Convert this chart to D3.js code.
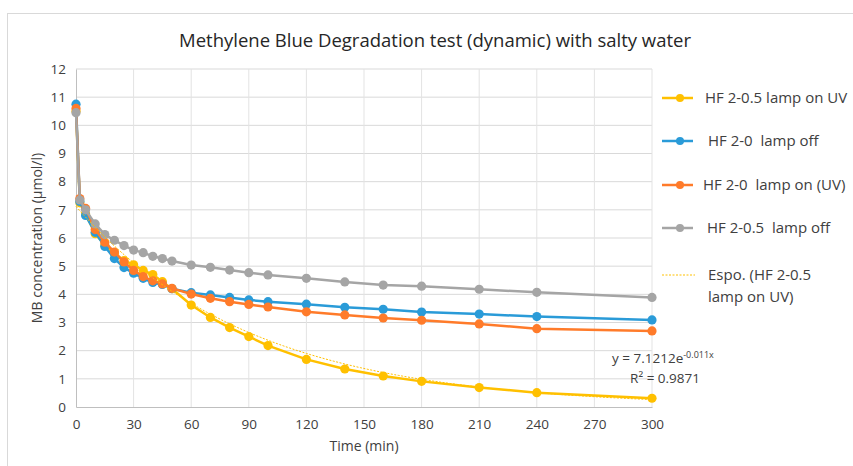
<!DOCTYPE html>
<html><head><meta charset="utf-8">
<script src="https://cdn.jsdelivr.net/npm/d3@7"></script>
<style>body{margin:0;background:#fff;} text{font-family:"Open Sans","Noto Sans",sans-serif;}</style>
</head><body><svg id="c" width="853" height="466"></svg>
<script>
const times = [0,2,5,10,15,20,25,30,35,40,45,50,60,70,80,90,100,120,140,160,180,210,240,300];
const hf05On  = [10.5,7.25,6.85,6.15,5.75,5.45,5.2,5.05,4.85,4.7,4.45,4.2,3.62,3.18,2.82,2.5,2.18,1.69,1.35,1.1,0.91,0.69,0.51,0.31];
const hf0Off  = [10.75,7.3,6.8,6.2,5.7,5.27,4.95,4.75,4.57,4.42,4.35,4.2,4.06,3.98,3.89,3.8,3.74,3.65,3.54,3.47,3.37,3.3,3.21,3.09];
const hf0On   = [10.6,7.4,7.05,6.3,5.85,5.5,5.15,4.85,4.63,4.48,4.37,4.21,4.01,3.86,3.74,3.64,3.55,3.38,3.27,3.16,3.08,2.95,2.78,2.7];
const hf05Off = [10.45,7.35,7.0,6.5,6.12,5.92,5.73,5.57,5.48,5.35,5.27,5.18,5.04,4.96,4.86,4.77,4.69,4.57,4.44,4.33,4.29,4.18,4.07,3.89];
const seriesNames = ["HF 2-0.5 lamp on UV","HF 2-0  lamp off","HF 2-0  lamp on (UV)","HF 2-0.5  lamp off"];
const seriesColors = ["#FFC000","#2A9BD8","#FF7B2A","#A5A5A5"];
const trendA = 7.1212, trendK = -0.011;
const xTicks = [0,30,60,90,120,150,180,210,240,270,300];
const yTicks = [0,1,2,3,4,5,6,7,8,9,10,11,12];

const svg = d3.select("#c");
svg.append("rect").attr("x",7.5).attr("y",13.5).attr("width",900).attr("height",500)
  .attr("fill","#fff").attr("stroke","#d9d9d9");

const x = d3.scaleLinear().domain([0,300]).range([76,652]);
const y = d3.scaleLinear().domain([0,12]).range([407,69]);

// grid
svg.append("g").selectAll("line").data(yTicks.slice(1)).join("line")
  .attr("x1",76).attr("x2",652).attr("y1",d=>y(d)).attr("y2",d=>y(d))
  .attr("stroke","#d9d9d9").attr("stroke-width",1);
svg.append("g").selectAll("line").data(xTicks.slice(1)).join("line")
  .attr("y1",69).attr("y2",407).attr("x1",d=>x(d)).attr("x2",d=>x(d))
  .attr("stroke","#e3e3e3").attr("stroke-width",1);

// axes
const xAxis = d3.axisBottom(x).tickValues(xTicks).tickSize(0).tickPadding(12);
const gx = svg.append("g").attr("transform","translate(0,407)").call(xAxis);
gx.select(".domain").attr("stroke","#bfbfbf");
gx.selectAll("text").attr("font-size",13.5).attr("fill","#404040").style("font-family","'Open Sans',sans-serif");
const yAxis = d3.axisLeft(y).tickValues(yTicks).tickSize(0).tickPadding(10);
const gy = svg.append("g").attr("transform","translate(76,0)").call(yAxis);
gy.select(".domain").attr("stroke","#bfbfbf");
gy.selectAll("text").attr("font-size",13.5).attr("fill","#404040").style("font-family","'Open Sans',sans-serif");

// series
const allSeries = [hf05On,hf0Off,hf0On,hf05Off];
const line = d3.line().x((d,i)=>x(times[i])).y(d=>y(d));
allSeries.forEach((vals,si)=>{
  svg.append("path").datum(vals).attr("d",line).attr("fill","none")
    .attr("stroke",seriesColors[si]).attr("stroke-width",2.5).attr("stroke-linejoin","round");
  svg.append("g").selectAll("circle").data(vals).join("circle")
    .attr("cx",(d,i)=>x(times[i])).attr("cy",d=>y(d)).attr("r",4.6)
    .attr("fill",seriesColors[si]);
});

// exponential trendline
const tPts = d3.range(0,301,2).map(t=>[t, trendA*Math.exp(trendK*t)]);
svg.append("path").datum(tPts).attr("d",d3.line().x(d=>x(d[0])).y(d=>y(d[1])))
  .attr("fill","none").attr("stroke","#FFC000").attr("stroke-width",1).attr("stroke-dasharray","2,1.5");

// title
svg.append("text").attr("x",435).attr("y",47).attr("text-anchor","middle")
  .attr("font-size",18.5).attr("fill","#262626")
  .text("Methylene Blue Degradation test (dynamic) with salty water");

// axis titles
svg.append("text").attr("x",364).attr("y",451).attr("text-anchor","middle")
  .attr("font-size",14).attr("fill","#404040").text("Time (min)");
svg.append("text").attr("transform","translate(42,238) rotate(-90)").attr("text-anchor","middle")
  .attr("font-size",14).attr("fill","#404040").text("MB concentration (µmol/l)");

// equation
const eq = svg.append("text").attr("x",612).attr("y",363).attr("font-size",13.5).attr("fill","#404040");
eq.append("tspan").text("y = 7.1212e");
eq.append("tspan").attr("dy",-5).attr("font-size",9).text("-0.011x");
svg.append("text").attr("x",700).attr("y",383).attr("text-anchor","end").attr("font-size",13.5).attr("fill","#404040").text("R² = 0.9871");

// legend
const legY = [98,141,185,228];
const legTx = [705,708,703,707];
seriesNames.forEach((n,i)=>{
  const g = svg.append("g");
  g.append("line").attr("x1",662).attr("x2",693).attr("y1",legY[i]).attr("y2",legY[i])
    .attr("stroke",seriesColors[i]).attr("stroke-width",2.5);
  g.append("circle").attr("cx",680).attr("cy",legY[i]).attr("r",4).attr("fill",seriesColors[i]);
  g.append("text").attr("x",legTx[i]).attr("y",legY[i]+5).attr("font-size",15).attr("fill","#404040")
    .style("white-space","pre").attr("xml:space","preserve").text(n);
});
svg.append("line").attr("x1",662).attr("x2",695).attr("y1",275).attr("y2",275)
  .attr("stroke","#FFC000").attr("stroke-width",1).attr("stroke-dasharray","2,1.5");
svg.append("text").attr("x",708).attr("y",280).attr("font-size",15).attr("fill","#404040").text("Espo. (HF 2-0.5");
svg.append("text").attr("x",708).attr("y",302).attr("font-size",15).attr("fill","#404040").text("lamp on UV)");
</script></body></html>
